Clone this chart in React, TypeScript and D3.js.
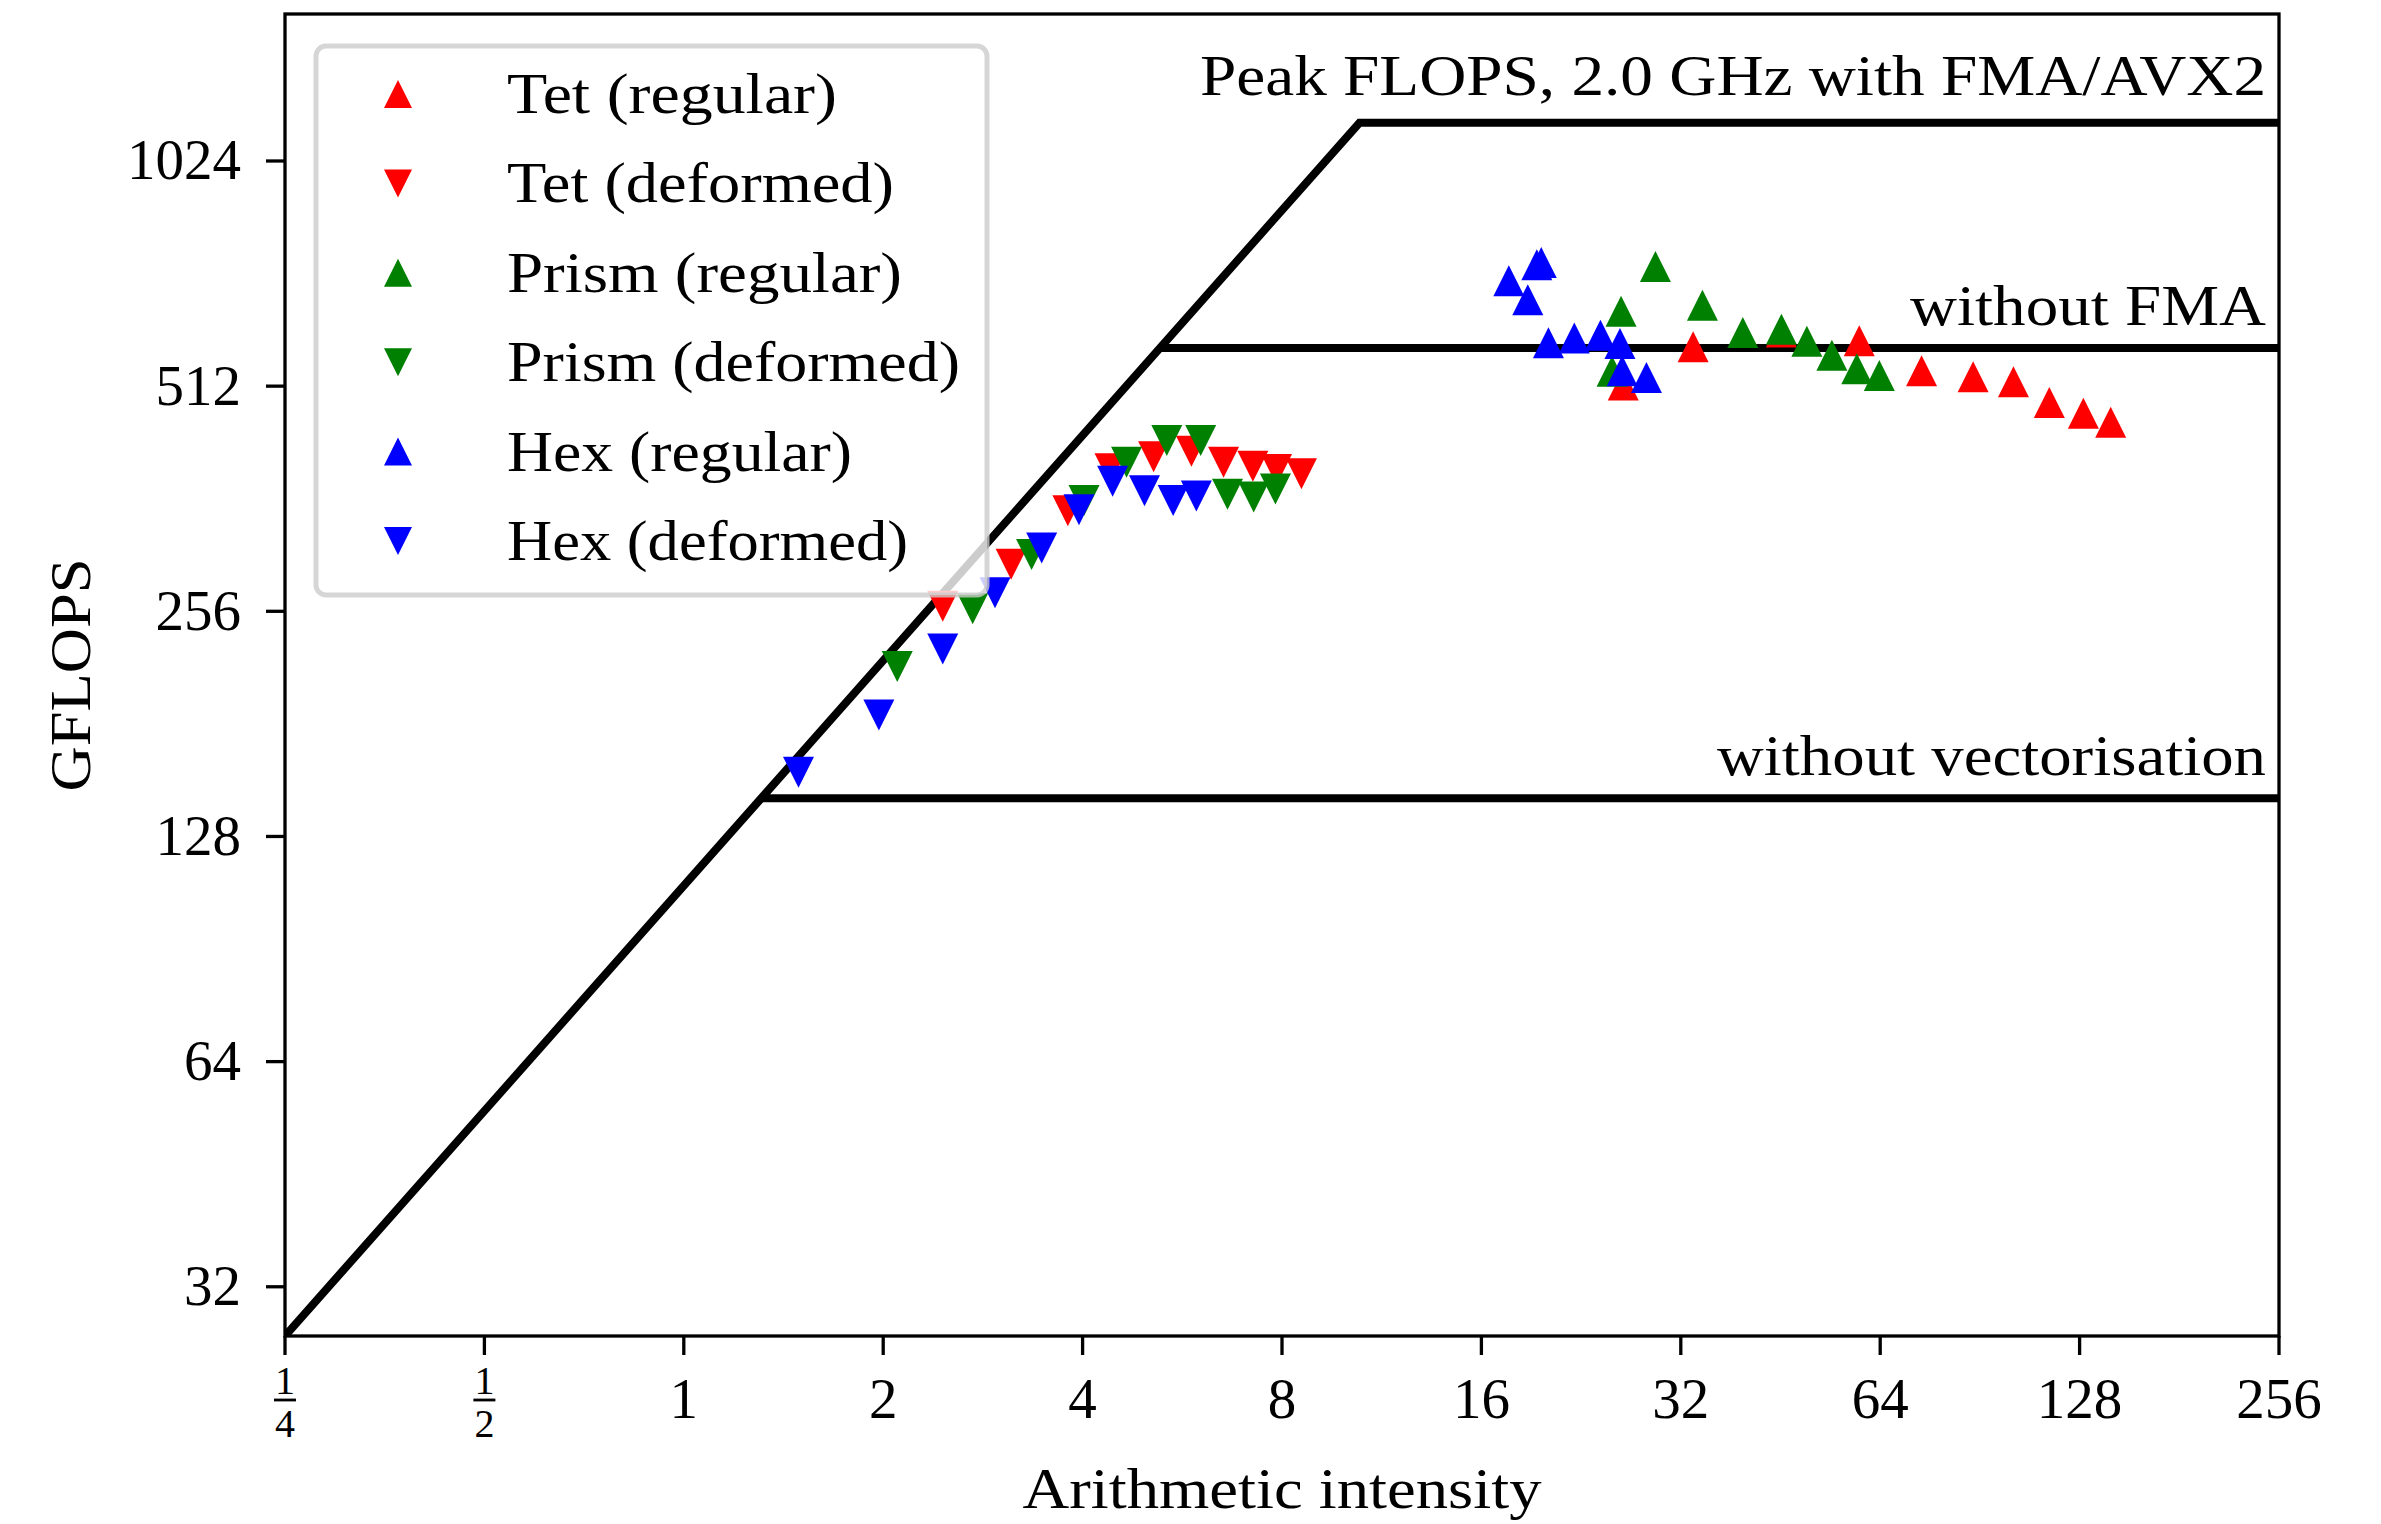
import React from "react";
import * as d3 from "d3";

// ---------- data ----------
const xTicks = [0.25, 0.5, 1, 2, 4, 8, 16, 32, 64, 128, 256];
const xTickLabels = ["1/4", "1/2", "1", "2", "4", "8", "16", "32", "64", "128", "256"];
const yTicks = [32, 64, 128, 256, 512, 1024];
const yTickLabels = ["32", "64", "128", "256", "512", "1024"];

const seriesNames = [
  "Tet (regular)",
  "Tet (deformed)",
  "Prism (regular)",
  "Prism (deformed)",
  "Hex (regular)",
  "Hex (deformed)",
];
const seriesColors = ["#ff0000", "#ff0000", "#008000", "#008000", "#0000ff", "#0000ff"];
const seriesShapes = ["up", "down", "up", "down", "up", "down"];

const tetRegularX = [26.2, 33.4, 45.4, 59.5, 73.9, 88.4, 101.7, 115.2, 129.7, 142.6];
const tetRegularY = [514, 578, 605, 589, 537, 527, 519, 487, 471, 458];
const tetDeformedX = [2.46, 3.12, 3.8, 4.4, 5.12, 5.84, 6.53, 7.23, 7.85, 8.56];
const tetDeformedY = [260, 296, 349, 397, 412, 419, 405, 400, 396, 391];
const prismRegularX = [25.2, 26.0, 29.3, 34.5, 39.7, 45.4, 49.6, 54.1, 59.0, 63.8];
const prismRegularY = [536, 645, 740, 657, 604, 610, 588, 563, 540, 529];
const prismDeformedX = [2.1, 2.73, 3.35, 4.02, 4.66, 5.36, 6.03, 6.62, 7.25, 7.82];
const prismDeformedY = [216, 258, 305, 360, 405, 433, 433, 367, 364, 373];
const hexRegularX = [17.6, 18.8, 19.4, 19.7, 20.2, 22.1, 24.2, 25.9, 26.1, 28.4];
const hexRegularY = [708, 668, 744, 749, 585, 594, 599, 584, 537, 526];
const hexDeformedX = [1.49, 1.97, 2.46, 2.95, 3.47, 3.95, 4.44, 4.96, 5.48, 5.94];
const hexDeformedY = [156, 186, 228, 271, 311, 350, 382, 371, 360, 365];

const seriesX = [tetRegularX, tetDeformedX, prismRegularX, prismDeformedX, hexRegularX, hexDeformedX];
const seriesY = [tetRegularY, tetDeformedY, prismRegularY, prismDeformedY, hexRegularY, hexDeformedY];

const bandwidth = 110; // GB/s
const peakValues = [1152, 576, 144];
const peakLabels = ["Peak FLOPS, 2.0 GHz with FMA/AVX2", "without FMA", "without vectorisation"];

const xDomain = [0.25, 256];
const yDomain = [27.5, 1610];

// ---------- layout ----------
const W = 2381;
const H = 1524;
const L = 285, R = 2279, T = 14, B = 1336;
const FONT = "'Liberation Serif', 'Times New Roman', serif";
const FS = 57;
const peakLabelWidths = [1066, 356, 549];
const peakLabelOffsets = [-28, -23, -23];
const legendTextWidths = [330, 387, 395, 453, 345, 401];

function tri(shape: string, s: number) {
  return shape === "up"
    ? `M0,${-s}L${s},${s}L${-s},${s}Z`
    : `M0,${s}L${s},${-s}L${-s},${-s}Z`;
}

export default function App() {
  const x = d3.scaleLog().base(2).domain(xDomain).range([L, R]);
  const y = d3.scaleLog().base(2).domain(yDomain).range([B, T]);

  const peak = peakValues[0];
  const ridge = peak / bandwidth;
  const roofPts: [number, number][] = [
    [xDomain[0], bandwidth * xDomain[0]],
    [ridge, peak],
    [xDomain[1], peak],
  ];
  const line = d3
    .line<[number, number]>()
    .x((d) => x(d[0]))
    .y((d) => y(d[1]));

  const ms = 15.5;

  return (
    <svg
      width={W}
      height={H}
      style={{ position: "absolute", left: 0, top: 0, background: "#fff" }}
      fontFamily={FONT}
    >
      <rect x={0} y={0} width={W} height={H} fill="#fff" />
      <defs>
        <clipPath id="plotclip">
          <rect x={L} y={T} width={R - L} height={B - T} />
        </clipPath>
      </defs>

      {/* rooflines */}
      <g clipPath="url(#plotclip)">
        <path
          d={line(roofPts) || ""}
          fill="none"
          stroke="#000"
          strokeWidth={8}
          strokeLinejoin="miter"
        />
        {peakValues.slice(1).map((p, i) => (
          <line
            key={i}
            x1={x(p / bandwidth)}
            x2={x(xDomain[1])}
            y1={y(p)}
            y2={y(p)}
            stroke="#000"
            strokeWidth={8}
          />
        ))}
      </g>

      {/* roofline labels */}
      {peakValues.map((p, i) => (
        <text
          key={i}
          x={R - 13}
          y={y(p) + peakLabelOffsets[i]}
          textAnchor="end"
          fontSize={FS}
          textLength={peakLabelWidths[i]}
          lengthAdjust="spacingAndGlyphs"
        >
          {peakLabels[i]}
        </text>
      ))}

      {/* data markers */}
      <g clipPath="url(#plotclip)">
        {seriesX.map((xs, si) =>
          xs.map((xv, j) => (
            <path
              key={`${si}-${j}`}
              d={tri(seriesShapes[si], ms)}
              transform={`translate(${x(xv)},${y(seriesY[si][j])})`}
              fill={seriesColors[si]}
            />
          ))
        )}
      </g>

      {/* spines */}
      <rect x={L} y={T} width={R - L} height={B - T} fill="none" stroke="#000" strokeWidth={3.3} />

      {/* y ticks */}
      {yTicks.map((t, i) => (
        <g key={t}>
          <line x1={L - 19} x2={L} y1={y(t)} y2={y(t)} stroke="#000" strokeWidth={3.3} />
          <text x={L - 44} y={y(t) + 18.5} textAnchor="end" fontSize={FS}>
            {yTickLabels[i]}
          </text>
        </g>
      ))}

      {/* x ticks */}
      {xTicks.map((t, i) => {
        const lab = xTickLabels[i];
        const px = x(t);
        const isFrac = lab.includes("/");
        return (
          <g key={t}>
            <line x1={px} x2={px} y1={B} y2={B + 19} stroke="#000" strokeWidth={3.3} />
            {isFrac ? (
              <g>
                <text x={px} y={1394} textAnchor="middle" fontSize={40} fill="#000">
                  {lab.split("/")[0]}
                </text>
                <line x1={px - 11} x2={px + 11} y1={1400} y2={1400} stroke="#000" strokeWidth={2.8} />
                <text x={px} y={1437} textAnchor="middle" fontSize={40} fill="#000">
                  {lab.split("/")[1]}
                </text>
              </g>
            ) : (
              <text x={px} y={1418} textAnchor="middle" fontSize={FS}>
                {lab}
              </text>
            )}
          </g>
        );
      })}

      {/* axis labels */}
      <text
        x={(L + R) / 2}
        y={1508}
        textAnchor="middle"
        fontSize={FS}
        textLength={519}
        lengthAdjust="spacingAndGlyphs"
      >
        Arithmetic intensity
      </text>
      <text
        transform={`translate(90,${(T + B) / 2}) rotate(-90)`}
        textAnchor="middle"
        fontSize={FS}
        textLength={233}
        lengthAdjust="spacingAndGlyphs"
      >
        GFLOPS
      </text>

      {/* legend */}
      <g>
        <rect
          x={316}
          y={46}
          width={671}
          height={549}
          rx={10}
          ry={10}
          fill="#fff"
          fillOpacity={0.8}
          stroke="#cccccc"
          strokeOpacity={0.8}
          strokeWidth={5}
        />
        {seriesNames.map((n, i) => {
          const cy = 94 + i * 89.4;
          return (
            <g key={n}>
              <path
                d={tri(seriesShapes[i], 14)}
                transform={`translate(398,${cy})`}
                fill={seriesColors[i]}
              />
              <text
                x={507}
                y={cy + 19}
                fontSize={FS}
                textLength={legendTextWidths[i]}
                lengthAdjust="spacingAndGlyphs"
              >
                {n}
              </text>
            </g>
          );
        })}
      </g>
    </svg>
  );
}
